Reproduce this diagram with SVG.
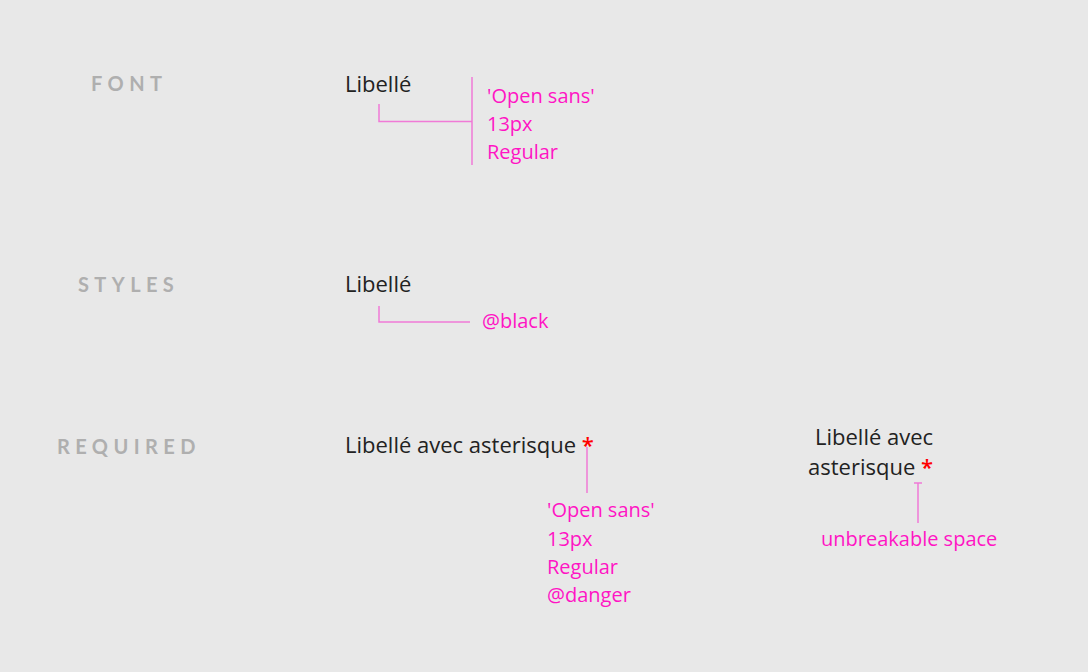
<svg xmlns="http://www.w3.org/2000/svg" width="1088" height="672" viewBox="0 0 1088 672">
<style>
.h{font-family:Lato,"Open Sans",sans-serif;font-weight:700;font-size:20px;fill:#afafaf;letter-spacing:5.4px}
.t{font-family:"Open Sans",sans-serif;font-size:22px;fill:#222}
.p{font-family:"Open Sans",sans-serif;font-size:20px;fill:#ff14c4}
.r{fill:#ff0000;font-weight:600}
.c{stroke:#f07ad6;stroke-width:1.5;fill:none}
</style>
<rect width="1088" height="672" fill="#e8e8e8"/>
<g id="headings">
<text class="h" x="91" y="91">FONT</text>
<text class="h" x="78" y="292">STYLES</text>
<text class="h" x="57" y="454">REQUIRED</text>
</g>
<g id="font-node">
<text class="t" x="345" y="92">Libellé</text>
<text class="p" x="487" y="102.5">'Open sans'</text>
<text class="p" x="487" y="131">13px</text>
<text class="p" x="487" y="159">Regular</text>
</g>
<g id="styles-node">
<text class="t" x="345" y="292">Libellé</text>
<text class="p" x="482" y="327.5">@black</text>
</g>
<g id="required-node">
<text class="t" x="345" y="452.5">Libellé avec asterisque <tspan class="r">*</tspan></text>
<text class="p" x="547" y="517">'Open sans'</text>
<text class="p" x="547" y="545.5">13px</text>
<text class="p" x="547" y="574">Regular</text>
<text class="p" x="547" y="602">@danger</text>
</g>
<g id="nbsp-node">
<text class="t" x="815" y="444.5">Libellé avec</text>
<text class="t" x="808" y="474.5">asterisque <tspan class="r">*</tspan></text>
<text class="p" x="821" y="545.5">unbreakable space</text>
</g>
<g id="connectors">
<path class="c" d="M379 104V121.5H472M472 77V165"/>
<path class="c" d="M379 306V322H470"/>
<path class="c" d="M587 447V493"/>
<path class="c" d="M914 483H922M918 483V523"/>
</g>
</svg>
